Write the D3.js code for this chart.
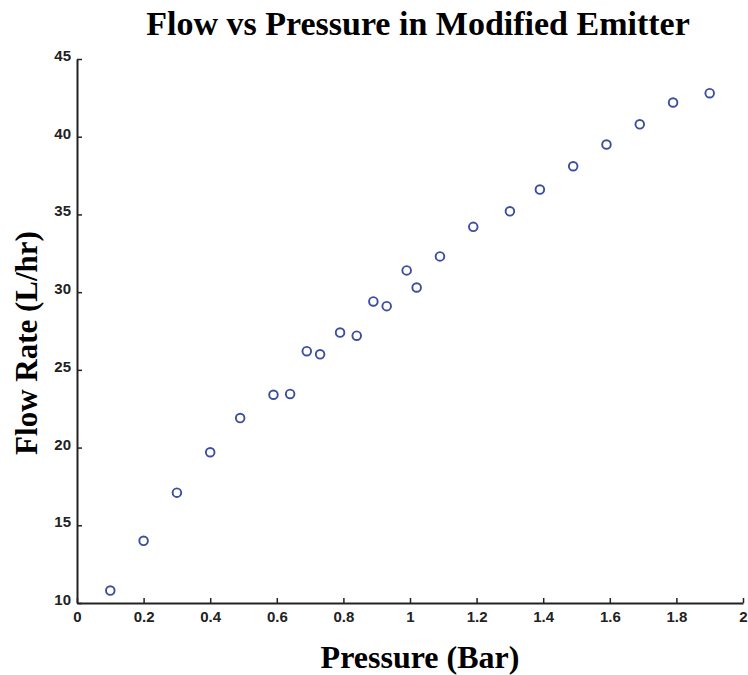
<!DOCTYPE html>
<html>
<head>
<meta charset="utf-8">
<script src="https://cdn.jsdelivr.net/npm/d3@7"></script>
<style>
  body { margin: 0; background: white; }
  .tick text { font-family: "Liberation Sans", Arial, sans-serif; font-weight: bold; fill: #222; }
</style>
</head>
<body>
<svg id="chart"></svg>
<script>
// data
var pressure = [0.10, 0.20, 0.30, 0.40, 0.49, 0.59, 0.64, 0.69, 0.73, 0.79, 0.84,
                0.89, 0.93, 0.99, 1.02, 1.09, 1.19, 1.30, 1.39, 1.49, 1.59, 1.69, 1.79, 1.90];
var flow = [10.8, 14.0, 17.1, 19.7, 21.9, 23.4, 23.45, 26.2, 26.0, 27.4, 27.2,
            29.4, 29.1, 31.4, 30.3, 32.3, 34.2, 35.2, 36.6, 38.1, 39.5, 40.8, 42.2, 42.8];
var xTicks = [0, 0.2, 0.4, 0.6, 0.8, 1, 1.2, 1.4, 1.6, 1.8, 2];
var yTicks = [10, 15, 20, 25, 30, 35, 40, 45];

var W = 748, H = 675;
var margin = {top: 59, right: 5, bottom: 72, left: 77};

var svg = d3.select("#chart").attr("width", W).attr("height", H);

var x = d3.scaleLinear().domain([0, 2]).range([margin.left, W - margin.right]);
var y = d3.scaleLinear().domain([10, 45]).range([H - margin.bottom, margin.top]);

// axes, ticks pointing inward like the original
var xAxis = svg.append("g")
  .attr("transform", "translate(0," + (H - margin.bottom) + ")")
  .call(d3.axisBottom(x).tickValues(xTicks).tickFormat(d3.format("")).tickSizeInner(-5).tickSizeOuter(0).tickPadding(8));
var yAxis = svg.append("g")
  .attr("transform", "translate(" + margin.left + ",0)")
  .call(d3.axisLeft(y).tickValues(yTicks).tickSizeInner(-5).tickSizeOuter(0).tickPadding(6));

[xAxis, yAxis].forEach(function(a) {
  a.select(".domain").attr("stroke", "#222").attr("stroke-width", 2);
  a.selectAll(".tick line").attr("stroke", "#222").attr("stroke-width", 1.5);
  a.selectAll(".tick text").style("font-size", "15px");
});
xAxis.selectAll(".tick text").attr("dy", "0.75em");
yAxis.selectAll(".tick text").attr("dy", "0.1em");

// points
svg.append("g").selectAll("circle")
  .data(pressure)
  .enter().append("circle")
    .attr("cx", function(d) { return x(d); })
    .attr("cy", function(d, i) { return y(flow[i]); })
    .attr("r", 4.3)
    .attr("fill", "none")
    .attr("stroke", "#3c4f9e")
    .attr("stroke-width", 1.9);

// titles
var serif = "'Liberation Serif', 'Times New Roman', serif";
svg.append("text")
  .attr("x", 418).attr("y", 35)
  .attr("text-anchor", "middle")
  .style("font-family", serif)
  .style("font-weight", "bold").style("font-size", "34px")
  .text("Flow vs Pressure in Modified Emitter");

svg.append("text")
  .attr("x", 420).attr("y", 668)
  .attr("text-anchor", "middle")
  .style("font-family", serif)
  .style("font-weight", "bold").style("font-size", "32px")
  .text("Pressure (Bar)");

svg.append("text")
  .attr("transform", "translate(37,343) rotate(-90)")
  .attr("text-anchor", "middle")
  .style("font-family", serif)
  .style("font-weight", "bold").style("font-size", "31px")
  .text("Flow Rate (L/hr)");
</script>
</body>
</html>
